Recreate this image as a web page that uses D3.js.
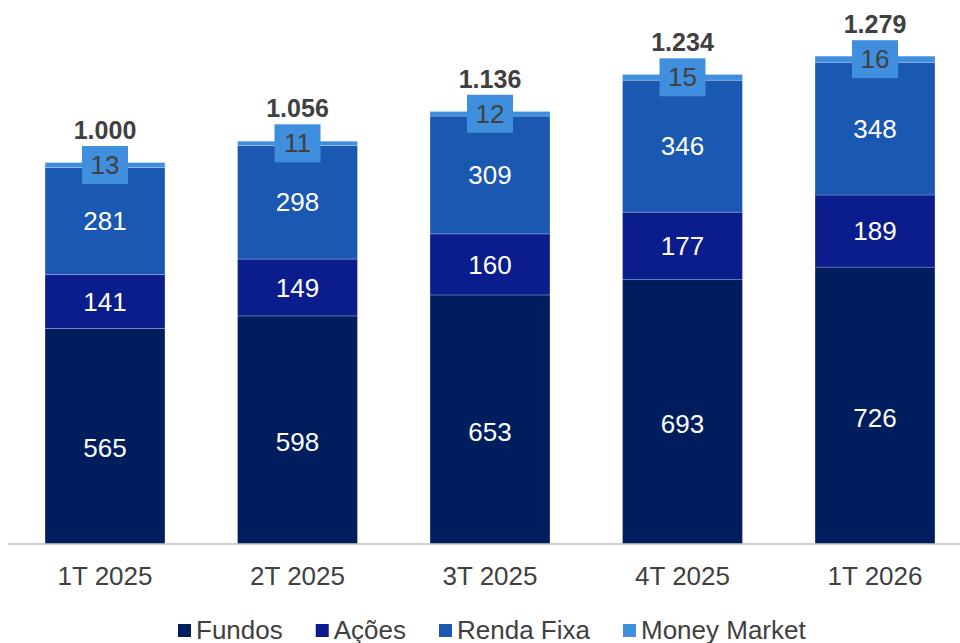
<!DOCTYPE html>
<html>
<head>
<meta charset="utf-8">
<script src="https://cdn.jsdelivr.net/npm/d3@7"></script>
<style>
  body { margin: 0; background: #fff; }
  svg { display: block; font-family: "Liberation Sans", Arial, sans-serif; }
</style>
</head>
<body>
<svg id="chart" width="960" height="643"></svg>
<script>
const categories = ["1T 2025", "2T 2025", "3T 2025", "4T 2025", "1T 2026"];
const seriesNames = ["Fundos", "Ações", "Renda Fixa", "Money Market"];
const fundos = [565, 598, 653, 693, 726];
const acoes = [141, 149, 160, 177, 189];
const rendaFixa = [281, 298, 309, 346, 348];
const moneyMarket = [13, 11, 12, 15, 16];
const totals = ["1.000", "1.056", "1.136", "1.234", "1.279"];
const colors = ["#001e5e", "#0b1c8c", "#1a58b2", "#3f8fde"];

const seriesValues = [fundos, acoes, rendaFixa, moneyMarket];
const rows = categories.map((c, i) => {
  const r = { cat: c };
  seriesNames.forEach((s, j) => r[s] = seriesValues[j][i]);
  return r;
});

const svg = d3.select("#chart");
const x = d3.scaleBand().domain(categories).range([8.75, 971.25]).paddingInner(0.377).paddingOuter(0.1885);
const y = d3.scaleLinear().domain([0, 1400]).range([544, 10]);

const stack = d3.stack().keys(seriesNames)(rows);

const layers = svg.append("g").selectAll("g").data(stack).join("g")
  .attr("fill", (d, i) => colors[i]);

layers.selectAll("rect").data(d => d).join("rect")
  .attr("x", d => x(d.data.cat))
  .attr("width", x.bandwidth())
  .attr("y", d => y(d[1]))
  .attr("height", d => y(d[0]) - y(d[1]))
  .attr("stroke", "rgba(255,255,255,0.3)")
  .attr("stroke-width", 0.75);

// axis line
svg.append("line").attr("x1", 8).attr("x2", 960).attr("y1", y(0)).attr("y2", y(0))
  .attr("stroke", "#bfbfbf").attr("stroke-width", 1.5);

// segment labels (first three series)
stack.slice(0, 3).forEach((layer, i) => {
  svg.append("g").selectAll("text").data(layer).join("text")
    .attr("x", d => x(d.data.cat) + x.bandwidth() / 2)
    .attr("y", d => (y(d[0]) + y(d[1])) / 2 + (i === 0 ? 12 : 0))
    .attr("dy", "0.35em")
    .attr("text-anchor", "middle")
    .attr("fill", "#ffffff")
    .attr("font-size", 26)
    .text(d => d.data[seriesNames[i]]);
});

// money market labels with boxes
const mm = stack[3];
const mmG = svg.append("g").selectAll("g").data(mm).join("g")
  .attr("transform", d => `translate(${x(d.data.cat) + x.bandwidth() / 2},${(y(d[0]) + y(d[1])) / 2})`);
mmG.append("rect").attr("x", -23).attr("y", -19).attr("width", 46).attr("height", 38)
  .attr("fill", colors[3]);
mmG.append("text").attr("text-anchor", "middle").attr("dy", "0.35em")
  .attr("fill", "#404040").attr("font-size", 26)
  .text(d => d.data["Money Market"]);

// totals
svg.append("g").selectAll("text").data(mm).join("text")
  .attr("x", d => x(d.data.cat) + x.bandwidth() / 2)
  .attr("y", d => (y(d[0]) + y(d[1])) / 2 - 19 - 7)
  .attr("text-anchor", "middle")
  .attr("fill", "#404040")
  .attr("font-size", 25)
  .attr("font-weight", "bold")
  .text((d, i) => totals[i]);

// x labels
svg.append("g").selectAll("text").data(categories).join("text")
  .attr("x", d => x(d) + x.bandwidth() / 2)
  .attr("y", 585)
  .attr("text-anchor", "middle")
  .attr("fill", "#404040")
  .attr("font-size", 26)
  .text(d => d);

// legend
let lx = 178;
const legend = svg.append("g");
seriesNames.forEach((s, i) => {
  legend.append("rect").attr("x", lx).attr("y", 624).attr("width", 13).attr("height", 13).attr("fill", colors[i]);
  const t = legend.append("text").attr("x", lx + 18).attr("y", 639)
    .attr("fill", "#404040").attr("font-size", 26).text(s);
  lx += 18 + t.node().getComputedTextLength() + 33;
});
</script>
</body>
</html>
